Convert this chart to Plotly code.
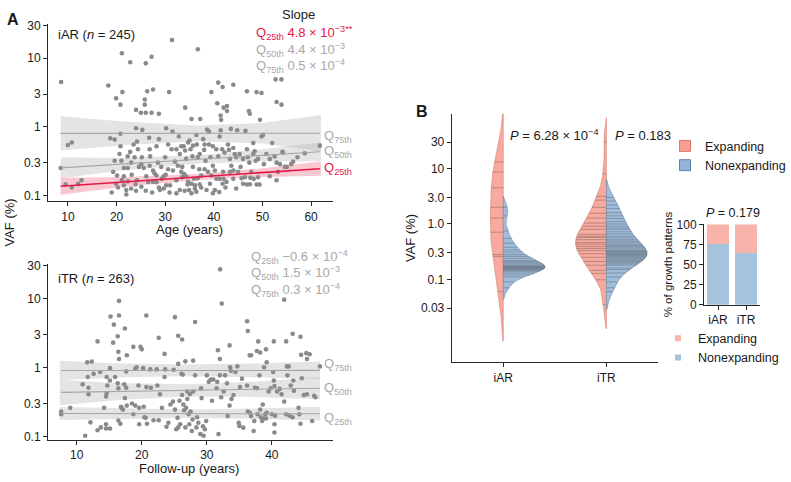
import numpy as np
import plotly.graph_objects as go

W, H = 791, 482
FONT = "Liberation Sans, Arial, sans-serif"

# ---------------- Panel A (top): iAR, VAF (%) vs age ----------------
iar_age = [
    31.4, 36.7, 21.1, 27.2, 22.8, 26.0, 8.6, 18.3, 40.9, 41.8,
    44.0, 52.7, 53.9, 19.9, 21.2, 20.8, 26.3, 27.5, 25.8, 25.8,
    30.8, 39.5, 40.7, 42.7, 42.0, 46.8, 48.8, 49.8, 52.9, 53.9,
    34.1, 24.0, 25.0, 26.0, 27.2, 28.7, 35.4, 37.2, 41.4, 42.7,
    41.5, 47.2, 47.4, 49.5,
    10.0, 10.8, 8.5, 9.5, 10.8, 12.1, 12.8, 18.7, 19.6, 19.0,
    19.9, 20.3, 20.8, 20.8, 20.6, 21.0, 21.5, 21.5, 21.1, 21.5,
    22.0, 22.0, 22.8, 23.0, 22.3, 23.1, 23.5, 24.0, 24.2, 24.4,
    23.7, 24.6, 24.2, 24.0, 25.3, 25.2, 25.1, 25.6, 26.1, 26.0,
    26.7, 26.9, 27.3, 27.8, 28.2, 28.7, 28.5, 28.7, 29.3, 29.7,
    30.0, 30.2, 30.1, 30.9, 31.0, 31.3, 31.5, 32.0, 32.3, 32.8,
    33.0, 33.3, 33.5, 33.8, 34.1, 34.3, 34.3, 34.6, 34.9, 35.0,
    35.2, 35.4, 35.6, 35.7, 35.9, 36.1, 36.4, 36.5, 36.7, 37.0,
    37.1, 37.4, 37.8, 38.0, 38.3, 38.6, 39.0, 39.0, 39.3, 39.2,
    39.8, 40.2, 40.5, 40.9, 41.1, 41.2, 41.4, 41.7, 41.9, 42.0,
    42.4, 42.9, 43.1, 43.3, 43.5, 43.6, 44.0, 44.3, 44.8, 45.0,
    45.3, 45.7, 46.0, 46.5, 46.8, 47.0, 47.3, 47.4, 47.7, 48.1,
    48.4, 48.6, 48.8, 49.4, 49.8, 50.1, 50.3, 50.8, 51.5, 52.0,
    52.5, 52.9, 52.9, 53.2, 53.6, 54.1, 54.6, 55.0, 55.9, 56.3,
    57.2, 58.7, 61.8,
    26.8, 27.5, 28.2, 29.2, 30.6, 31.6, 32.6, 33.5, 33.9, 34.7,
    35.4, 36.1, 36.7, 37.4, 38.1, 38.8, 39.5, 40.2, 41.2, 41.8,
    42.6, 43.3, 44.0, 44.6, 45.5, 46.4, 46.8, 47.5, 48.2, 49.1,
    19.3, 20.1, 22.3, 23.0, 23.9, 25.1, 26.5, 27.5, 28.9, 29.7,
    33.0, 34.0, 36.4, 38.5, 39.8, 32.3, 30.2,
    19.6, 22.3, 26.8, 28.2, 30.6, 32.3, 33.3, 34.7, 35.7, 37.1,
    38.1, 39.8, 40.5, 42.2, 44.0, 44.6, 46.0, 49.1, 51.5, 48.1, 54.2,
]
iar_vaf = [
    18.4, 13.5, 11.8, 10.5, 8.7, 8.4, 4.5, 4.0, 4.4, 3.8,
    4.1, 4.9, 4.9, 2.6, 3.2, 2.1, 3.3, 3.5, 2.5, 2.1,
    3.2, 3.2, 2.2, 2.0, 1.9, 3.3, 3.2, 3.1, 2.3, 2.1,
    1.9, 1.76, 1.6, 1.6, 1.6, 1.55, 1.3, 1.3, 1.46, 1.7,
    1.26, 1.7, 1.55, 1.26,
    0.54, 0.59, 0.25, 0.145, 0.13, 0.147, 0.166, 0.68, 0.32, 0.11,
    0.148, 0.13, 0.79, 0.52, 0.40, 0.32, 0.25, 0.19, 0.166, 0.14,
    0.12, 0.103, 0.43, 0.30, 0.25, 0.20, 0.55, 0.95, 0.61, 0.47,
    0.36, 0.26, 0.166, 0.117, 0.90, 0.36, 0.285, 0.25, 0.19, 0.117,
    0.69, 0.37, 0.11, 0.21, 0.155, 0.66, 0.30, 0.13, 0.174, 0.19,
    0.36, 0.95, 0.20, 0.11, 0.14, 0.47, 0.85, 0.31, 0.166, 0.72,
    0.40, 0.22, 0.26, 0.52, 0.45, 0.34, 0.19, 0.144, 0.12, 0.63,
    0.47, 0.107, 0.37, 0.26, 0.175, 0.14, 0.76, 0.55, 0.36, 0.24,
    0.144, 0.13, 0.66, 0.46, 0.32, 0.91, 0.85, 0.55, 0.36, 0.148,
    0.27, 0.12, 0.175, 0.37, 0.112, 0.72, 0.89, 0.47, 0.22, 0.174,
    0.13, 0.55, 0.46, 0.34, 0.93, 0.27, 0.23, 0.40, 0.89, 0.22,
    0.40, 0.178, 0.148, 0.87, 0.47, 0.36, 0.30, 0.145, 0.22, 0.40,
    0.44, 0.32, 0.144, 0.144, 0.72, 0.76, 0.285, 0.40, 0.19, 0.58,
    0.37, 0.30, 0.166, 0.22, 0.285, 0.43, 0.26, 0.26, 0.285, 0.31,
    0.36, 0.41, 0.53,
    0.27, 0.23, 0.195, 0.26, 0.24, 0.23, 0.27, 0.184, 0.205, 0.157,
    0.148, 0.126, 0.178, 0.195, 0.24, 0.22, 0.195, 0.23, 0.174, 0.148,
    0.157, 0.22, 0.174, 0.126, 0.26, 0.184, 0.144, 0.18, 0.174, 0.184,
    0.22, 0.195, 0.16, 0.126, 0.144, 0.133, 0.157, 0.157, 0.12, 0.126,
    0.12, 0.117, 0.113, 0.12, 0.107, 0.107, 0.14,
    0.65, 0.37, 0.47, 0.52, 0.55, 0.47, 0.52, 0.59, 0.53, 0.40,
    0.55, 0.52, 0.47, 0.42, 0.49, 0.36, 0.34, 0.34, 0.34, 0.58, 0.42,
]

# quantile regression of log10(VAF) on age: 25th, 50th, 75th
iar_slope = [4.8e-3, 4.4e-3, 0.5e-4]
iar_intercept = [-0.908, -0.637, -0.097]
iar_slope_text = ["4.8 × 10<sup>−3**</sup>", "4.4 × 10<sup>−3</sup>", "0.5 × 10<sup>−4</sup>"]
# confidence band half-widths (log10 units) read at these ages
iar_band_age = [8.5, 22, 37, 50, 62]
iar_band_q25 = [0.125, 0.07, 0.045, 0.065, 0.105]
iar_band_q50 = [0.15, 0.09, 0.06, 0.09, 0.14]
iar_band_q75 = [0.25, 0.17, 0.115, 0.15, 0.265]

# ---------------- Panel A (bottom): iTR, VAF (%) vs follow-up ----------------
itr_fu = [
    32.05, 32.3, 16.5, 41.9, 15.2, 16.5, 20.7, 25.1, 15.7, 17.4,
    28.2, 36.2, 13.2, 15.6, 16.3, 18.7, 19.8, 20.0, 16.4, 16.5,
    17.7, 22.6, 25.6, 26.2, 23.5, 25.6, 26.7, 31.7, 33.5, 32.0,
    36.3, 36.6, 36.8, 37.9, 37.7, 38.2, 39.1, 39.2, 40.3, 42.2,
    43.2, 44.4, 44.5, 45.3, 45.8, 45.4, 27.9, 11.6, 12.3,
    11.7, 12.6, 10.9, 11.8, 9.0, 7.6, 7.6, 12.1, 13.2, 13.7,
    14.5, 15.1, 14.5, 11.3, 13.6, 14.2, 14.6, 14.7, 14.6, 14.5,
    15.1, 15.1, 15.9, 16.3, 16.4, 16.4, 16.7, 16.8, 16.9, 17.1,
    17.3, 17.6, 17.6, 17.4, 17.7, 18.5, 18.7, 19.0, 19.0, 19.2,
    19.5, 19.6, 19.6, 20.2, 20.3, 20.4, 20.6, 20.7, 20.8, 21.3,
    21.4, 21.8, 22.3, 22.4, 22.6, 22.8, 23.1, 23.5, 23.6, 23.8,
    24.1, 24.4, 24.8, 24.9, 25.1, 25.3, 25.5, 25.6, 25.8, 25.9,
    26.1, 26.2, 26.3, 26.4, 26.5, 26.7, 26.8, 27.0, 27.0, 27.2,
    27.3, 27.4, 27.5, 27.7, 27.8, 27.9, 28.2, 28.4, 28.5, 28.7,
    29.0, 29.1, 29.2, 29.4, 29.5, 29.7, 29.9, 30.0, 30.3, 30.6,
    30.8, 31.0, 31.5, 31.6, 31.8, 32.0, 32.2, 32.6, 32.8, 33.1,
    33.2, 33.5, 33.6, 33.7, 33.8, 34.1, 34.4, 34.7, 34.9, 35.0,
    35.1, 35.4, 35.6, 36.2, 36.3, 36.6, 36.8, 37.2, 37.3, 37.4,
    37.7, 37.8, 38.1, 38.2, 38.3, 38.5, 38.6, 38.7, 38.8, 39.0,
    39.1, 39.2, 39.5, 39.8, 40.0, 40.2, 40.3, 40.4, 40.4, 40.4,
    40.5, 40.8, 41.2, 41.5, 41.9, 42.2, 42.3, 42.4, 42.6, 42.7,
    42.9, 43.2, 43.3, 43.4, 44.1, 44.2, 44.4, 44.6, 44.9, 45.4,
    46.2, 46.5, 46.7, 47.4, 11.8,
]
itr_vaf = [
    26.7, 8.5, 9.3, 9.7, 5.5, 5.7, 5.7, 5.4, 4.2, 3.7,
    4.6, 4.7, 2.4, 2.3, 2.85, 2.0, 2.0, 1.84, 1.69, 1.33,
    1.51, 2.7, 2.9, 2.56, 1.58, 1.13, 1.23, 1.78, 2.1, 1.33,
    3.4, 1.51, 1.51, 2.4, 1.74, 1.65, 1.84, 1.19, 2.4, 2.4,
    3.1, 2.8, 1.53, 1.62, 1.56, 1.33, 1.26, 1.19, 1.22,
    0.73, 0.81, 0.57, 0.41, 0.26, 0.23, 0.21, 0.16, 0.123, 0.135,
    0.15, 0.13, 0.13, 0.102, 0.86, 0.26, 0.73, 0.55, 0.42, 0.38,
    0.98, 0.65, 0.73, 0.59, 0.5, 0.17, 0.153, 0.27, 0.26, 0.245,
    0.57, 0.88, 0.51, 0.36, 0.28, 0.3, 0.21, 0.28, 0.96, 1.01,
    0.55, 0.26, 0.15, 0.98, 0.27, 0.19, 0.186, 0.52, 0.153, 0.94,
    0.51, 0.172, 0.94, 0.55, 0.172, 0.41, 0.26, 0.73, 0.94, 0.138,
    0.158, 0.29, 0.32, 0.93, 0.245, 0.127, 0.186, 0.135, 0.33, 0.15,
    0.81, 0.4, 0.79, 0.29, 0.24, 0.135, 0.26, 0.35, 0.45, 0.21,
    0.15, 0.41, 0.23, 0.12, 0.176, 0.45, 0.77, 0.135, 0.19, 0.158,
    0.108, 0.5, 0.36, 0.14, 0.102, 0.127, 0.167, 0.77, 0.62, 0.67,
    0.33, 0.67, 0.5, 0.62, 0.108, 0.77, 0.37, 0.45, 0.77, 0.59,
    0.197, 0.28, 1.01, 0.9, 0.35, 0.4, 0.86, 1.04, 0.158, 0.142,
    0.52, 0.69, 0.134, 0.55, 0.23, 0.22, 0.197, 0.12, 0.167, 0.51,
    0.5, 0.21, 0.77, 0.245, 0.19, 0.167, 0.29, 0.182, 1.01, 0.21,
    0.182, 0.22, 0.45, 0.5, 0.21, 0.86, 0.65, 0.54, 0.15, 0.114,
    0.2, 0.45, 0.49, 0.41, 0.32, 0.21, 1.04, 0.77, 1.04, 0.2,
    0.55, 0.19, 0.65, 0.46, 0.26, 0.21, 0.153, 0.7, 0.4, 0.41,
    0.167, 0.39, 0.37, 1.04, 0.51,
]
itr_slope = [-0.6e-4, 1.5e-3, 0.3e-4]
itr_intercept = [-0.668, -0.372, -0.043]
itr_slope_text = ["−0.6 × 10<sup>−4</sup>", "1.5 × 10<sup>−3</sup>", "0.3 × 10<sup>−4</sup>"]
itr_band_fu = [7.4, 17, 27, 37, 47.4]
itr_band_q25 = [0.095, 0.075, 0.062, 0.075, 0.1]
itr_band_q50 = [0.185, 0.12, 0.09, 0.11, 0.16]
itr_band_q75 = [0.14, 0.1, 0.085, 0.1, 0.13]

quantile_labels = ["25th", "50th", "75th"]

# ---------------- Panel B: split violins of VAF (%) ----------------
violin_groups = ["iAR", "iTR"]
iar_expanding_vaf = [13.2, 8.7, 4.5, 2.0, 1.28, 0.71, 0.28, 0.26, 0.06]
iar_nonexpanding_vaf = [2.0, 1.4, 0.75, 0.55, 0.45, 0.38, 0.34, 0.31, 0.28, 0.26,
                        0.24, 0.22, 0.21, 0.2, 0.19, 0.18, 0.175, 0.17, 0.165, 0.16,
                        0.16, 0.155, 0.15, 0.145, 0.14, 0.13, 0.12, 0.11, 0.09, 0.07]
itr_expanding_vaf = [30.0, 8.0, 3.15, 2.7, 2.0, 1.56, 1.28, 1.04, 0.91, 0.8,
                     0.65, 0.6, 0.57, 0.52, 0.46, 0.43, 0.39, 0.36, 0.33, 0.29,
                     0.25, 0.21, 0.18, 0.145, 0.128, 0.098, 0.035]
itr_nonexpanding_vaf = [3.0, 2.6, 2.2, 1.9, 1.6, 1.4, 1.25, 1.1, 1.0, 0.92,
                        0.85, 0.8, 0.72, 0.66, 0.6, 0.56, 0.52, 0.49, 0.46, 0.43,
                        0.41, 0.39, 0.37, 0.35, 0.33, 0.32, 0.31, 0.3, 0.29, 0.28,
                        0.27, 0.26, 0.25, 0.24, 0.23, 0.22, 0.21, 0.2, 0.19, 0.18,
                        0.16, 0.15, 0.13, 0.11, 0.09, 0.07, 0.06]
violin_p_text = ["<i>P</i> = 6.28 × 10<sup>−4</sup>", "<i>P</i> = 0.183"]

# ---------------- Inset: % of growth patterns ----------------
growth_groups = ["iAR", "iTR"]
pct_nonexpanding = [76, 64]
pct_expanding = [24, 36]
growth_p_text = "<i>P</i> = 0.179"

# ---------------- styling ----------------
PT = "rgb(138,138,138)"
RED = "rgb(228,24,72)"
QGRAY = "rgb(165,165,165)"
LGRAY = "rgb(168,168,168)"
BAND_GRAY = "rgba(185,185,185,0.38)"
BAND_RED = "rgba(238,110,135,0.38)"
SALMON = "rgb(248,170,158)"
SALMON_LINE = "rgb(214,128,116)"
BLUE = "rgb(160,190,220)"
BLUE_LINE = "rgb(104,136,170)"
BAR_SALMON = "rgb(248,180,170)"
BAR_BLUE = "rgb(166,195,221)"
AX = "rgb(40,40,40)"
TXT = "rgb(25,25,25)"
# max half-width of each violin half (x-axis units; categories are 1 apart)
HALF_WIDTHS = [0.125, 0.405, 0.30, 0.395]


def fx(p):
    return p / W


def fy(p):
    return 1 - p / H


fig = go.Figure()


def add_panel(xs, ys, slopes, intercepts, band_x, bands, colors, band_colors, xa, ya):
    xs = np.asarray(xs, float)
    for q in [2, 1, 0]:
        bx = np.asarray(band_x, float)
        hw = np.asarray(bands[q], float)
        c = intercepts[q] + slopes[q] * bx
        fig.add_trace(go.Scatter(
            x=np.concatenate([bx, bx[::-1]]),
            y=np.concatenate([10 ** (c + hw), (10 ** (c - hw))[::-1]]),
            fill="toself", fillcolor=band_colors[q], line=dict(width=0),
            mode="lines", hoverinfo="skip", showlegend=False, xaxis=xa, yaxis=ya))
    fig.add_trace(go.Scatter(
        x=xs, y=ys, mode="markers",
        marker=dict(size=4.6, color=PT, line=dict(width=0)),
        showlegend=False, xaxis=xa, yaxis=ya))
    xl = np.array([xs.min(), xs.max()])
    for q in [2, 1, 0]:
        fig.add_trace(go.Scatter(
            x=xl, y=10 ** (intercepts[q] + slopes[q] * xl), mode="lines",
            line=dict(color=colors[q], width=1.6 if colors[q] == RED else 1.1),
            showlegend=False, xaxis=xa, yaxis=ya))


add_panel(iar_age, iar_vaf, iar_slope, iar_intercept, iar_band_age,
          [iar_band_q25, iar_band_q50, iar_band_q75],
          [RED, QGRAY, QGRAY], [BAND_RED, BAND_GRAY, BAND_GRAY], "x", "y")
add_panel(itr_fu, itr_vaf, itr_slope, itr_intercept, itr_band_fu,
          [itr_band_q25, itr_band_q50, itr_band_q75],
          [QGRAY, QGRAY, QGRAY], [BAND_GRAY, BAND_GRAY, BAND_GRAY], "x2", "y2")


# ---------- split violins (Gaussian KDE in log10 space) ----------
def nrd0(v):
    sd = np.std(v, ddof=1)
    iqr = np.subtract(*np.percentile(v, [75, 25]))
    lo = min(sd, iqr / 1.34) if iqr > 0 else sd
    return 0.9 * lo * len(v) ** -0.2


def kde(v, g, bw):
    return np.exp(-0.5 * ((g[:, None] - v[None, :]) / bw) ** 2).sum(1) / (len(v) * bw * np.sqrt(2 * np.pi))


halves = [
    (0, -1, iar_expanding_vaf, SALMON, SALMON_LINE),
    (0, 1, iar_nonexpanding_vaf, BLUE, BLUE_LINE),
    (1, -1, itr_expanding_vaf, SALMON, SALMON_LINE),
    (1, 1, itr_nonexpanding_vaf, BLUE, BLUE_LINE),
]
for (center, side, vals, fc, lc), hwmax in zip(halves, HALF_WIDTHS):
    lv = np.log10(np.asarray(vals, float))
    bw = nrd0(lv)
    g = np.linspace(lv.min() - 2 * bw, lv.max() + 2 * bw, 300)
    d = kde(lv, g, bw)
    scale = hwmax / d.max()
    w = d * scale
    xs = np.concatenate([center + side * w, np.full(len(g), center)])
    ys = np.concatenate([10 ** g, (10 ** g)[::-1]])
    fig.add_trace(go.Scatter(x=xs, y=ys, mode="lines", fill="toself", fillcolor=fc,
                             line=dict(color=lc, width=0.6), hoverinfo="skip",
                             showlegend=False, xaxis="x3", yaxis="y3"))
    sw = kde(lv, lv, bw) * scale
    sx, sy = [], []
    for v, ww in zip(lv, sw):
        sx += [center, center + side * ww, None]
        sy += [10 ** v, 10 ** v, None]
    fig.add_trace(go.Scatter(x=sx, y=sy, mode="lines",
                             line=dict(color="rgba(70,70,70,0.45)", width=0.8),
                             hoverinfo="skip", showlegend=False, xaxis="x3", yaxis="y3"))

# ---------- inset stacked bars ----------
fig.add_trace(go.Bar(x=[0, 1], y=pct_nonexpanding, marker=dict(color=BAR_BLUE, line=dict(width=0)),
                     width=0.81, showlegend=False, xaxis="x4", yaxis="y4"))
fig.add_trace(go.Bar(x=[0, 1], y=pct_expanding, marker=dict(color=BAR_SALMON, line=dict(width=0)),
                     width=0.81, showlegend=False, xaxis="x4", yaxis="y4"))

# ---------- legends ----------
for name, col, lcol in [("Expanding", "rgb(246,158,144)", "rgb(222,120,108)"),
                        ("Nonexpanding", "rgb(146,180,214)", "rgb(96,132,172)")]:
    fig.add_trace(go.Scatter(x=[None], y=[None], mode="markers", name=name,
                             marker=dict(symbol="square", size=11, color=col, line=dict(color=lcol, width=1)),
                             legend="legend", xaxis="x3", yaxis="y3"))
for name, col in [("Expanding", BAR_SALMON), ("Nonexpanding", BAR_BLUE)]:
    fig.add_trace(go.Scatter(x=[None], y=[None], mode="markers", name=name,
                             marker=dict(symbol="square", size=6, color=col, line=dict(width=0)),
                             legend="legend2", xaxis="x4", yaxis="y4"))

# ---------- axes ----------
axis_common = dict(showline=True, linecolor=AX, linewidth=1, ticks="outside", ticklen=4,
                   tickcolor=AX, tickwidth=1, showgrid=False, zeroline=False,
                   tickfont=dict(size=12, color=TXT, family=FONT))
logv = [0.1, 0.3, 1, 3, 10, 30]
logt = ["0.1", "0.3", "1", "3", "10", "30"]

fig.update_layout(
    xaxis=dict(domain=[fx(48), fx(333)], range=[5.9, 64.5], anchor="y",
               tickvals=[10, 20, 30, 40, 50, 60], **axis_common),
    yaxis=dict(domain=[fy(200), fy(17)], type="log", range=[-1.085, 1.505], anchor="x",
               tickvals=logv, ticktext=logt, **axis_common),
    xaxis2=dict(domain=[fx(48), fx(333)], range=[5.58, 49.4], anchor="y2",
                tickvals=[10, 20, 30, 40], **axis_common),
    yaxis2=dict(domain=[fy(446), fy(265)], type="log", range=[-1.053, 1.5], anchor="x2",
                tickvals=logv, ticktext=logt, **axis_common),
    xaxis3=dict(domain=[fx(451.7), fx(658)], range=[-0.5, 1.5], anchor="y3",
                tickvals=[0, 1], ticktext=violin_groups, **axis_common),
    yaxis3=dict(domain=[fy(366), fy(110)], type="log", range=[-2.5, 1.99], anchor="x3",
                tickvals=[0.03, 0.1, 0.3, 1, 3, 10, 30],
                ticktext=["0.03", "0.1", "0.3", "1.0", "3.0", "10", "30"], **axis_common),
    xaxis4=dict(domain=[fx(704), fx(760)], range=[-0.5, 1.5], anchor="y4",
                tickvals=[0, 1], ticktext=growth_groups, **axis_common),
    yaxis4=dict(domain=[fy(306.7), fy(224)], range=[0, 100], anchor="x4",
                tickvals=[0, 25, 50, 75, 100], **axis_common),
    barmode="stack",
    legend=dict(x=fx(665), y=fy(128), xanchor="left", yanchor="top", traceorder="normal",
                font=dict(size=12.5, family=FONT, color=TXT), bgcolor="rgba(0,0,0,0)",
                tracegroupgap=0, borderwidth=0),
    legend2=dict(x=fx(658), y=fy(326), xanchor="left", yanchor="top", traceorder="normal",
                 font=dict(size=12.5, family=FONT, color=TXT), bgcolor="rgba(0,0,0,0)",
                 tracegroupgap=0, borderwidth=0),
    width=W, height=H, margin=dict(l=0, r=0, t=0, b=0),
    paper_bgcolor="white", plot_bgcolor="white",
    font=dict(family=FONT, color=TXT),
)

ann = []


def add(text, x, y, xanchor="left", size=13, color=TXT, angle=0):
    ann.append(dict(text=text, x=fx(x), y=fy(y), xref="paper", yref="paper",
                    xanchor=xanchor, yanchor="middle", showarrow=False, textangle=angle,
                    font=dict(size=size, color=color, family=FONT)))


add("<b>A</b>", 5, 13, size=16)
add("<b>B</b>", 414, 108, size=16)
add("Slope", 298, 8, xanchor="center")
qcol_top = [RED, LGRAY, LGRAY]
for i, (q, t) in enumerate(zip(quantile_labels, iar_slope_text)):
    add(f"Q<sub>{q}</sub> {t}", 254, 27 + 17 * i, color=qcol_top[i])
add("iAR (<i>n</i> = 245)", 56, 28)
for q, yy, c in [("75th", 133, LGRAY), ("50th", 149, LGRAY), ("25th", 166, RED)]:
    add(f"Q<sub>{q}</sub>", 322, yy, color=c)
add("Age (years)", 189, 229, xanchor="center")
add("VAF (%)", 10, 222, xanchor="center", angle=-90)
add("iTR (<i>n</i> = 263)", 56, 280)
for i, (q, t) in enumerate(zip(quantile_labels, itr_slope_text)):
    add(f"Q<sub>{q}</sub> {t}", 249, 257 + 17 * i, color=LGRAY)
for q, yy in [("75th", 368), ("50th", 393), ("25th", 424)]:
    add(f"Q<sub>{q}</sub>", 322, yy, color=LGRAY)
add("Follow-up (years)", 189, 475, xanchor="center")
add("VAF (%)", 410, 238, xanchor="center", angle=-90)
add(violin_p_text[0], 508, 132)
add(violin_p_text[1], 613, 132)
add(growth_p_text, 733, 212, xanchor="center", size=12.5)
add("% of growth patterns", 668, 265, xanchor="center", size=11.5, angle=-90)
fig.update_layout(annotations=ann)

fig.write_html("out.html", config={"displayModeBar": False},
               post_script="document.body.style.margin='0px';document.body.style.overflow='hidden';")
